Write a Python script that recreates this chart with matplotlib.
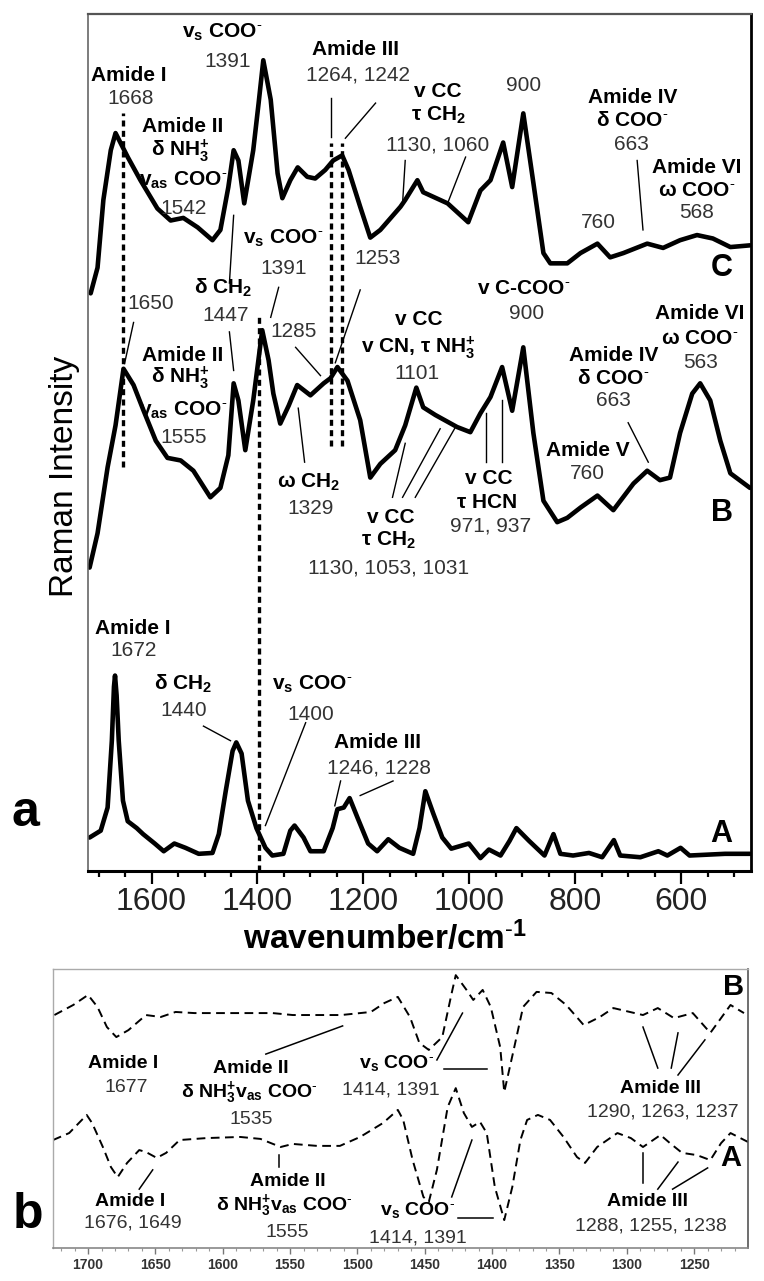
import matplotlib.pyplot as plt
import numpy as np

plt.rcParams['font.family'] = ['Liberation Sans', 'DejaVu Sans']
plt.rcParams['mathtext.fontset'] = 'custom'
plt.rcParams['mathtext.rm'] = 'Liberation Sans'
plt.rcParams['mathtext.bf'] = 'Liberation Sans:bold'
plt.rcParams['mathtext.it'] = 'Liberation Sans:italic'

# ---- panel a: Raman spectra (wavenumber / cm-1, intensity a.u. with offsets) ----
w_C = [1715, 1702, 1691, 1677, 1668, 1645, 1621, 1589, 1564, 1540, 1513, 1485, 1470,
       1455, 1445, 1436, 1425, 1408, 1398, 1389, 1375, 1362, 1353, 1338, 1324, 1306, 1291,
       1272, 1257, 1240, 1228, 1206, 1187, 1168, 1130, 1121, 1098, 1087, 1041, 1002,
       979, 960, 936, 919, 898, 879, 860, 847, 815, 790, 758, 734, 709, 664, 634, 602,
       570, 540, 507, 470]
I_C = [67.4, 70.4, 78.3, 84.1, 86.1, 83.3, 80.6, 77.3, 75.9, 76.2, 75.1, 73.6, 74.8,
       79.8, 84.1, 82.9, 77.9, 84.1, 89.5, 94.6, 90.0, 81.4, 78.5, 80.6, 82.1, 81.0, 80.8,
       81.8, 82.9, 83.5, 81.8, 77.5, 73.9, 74.8, 77.5, 78.3, 80.6, 79.2, 77.9, 75.7,
       79.4, 80.6, 85.0, 79.8, 88.4, 80.3, 72.1, 70.9, 70.9, 72.1, 73.2, 71.6, 72.1,
       73.2, 72.7, 73.6, 74.2, 73.8, 72.8, 73.0]

w_B = [1717, 1702, 1683, 1668, 1653, 1634, 1615, 1592, 1570, 1545, 1521, 1489, 1470,
       1455, 1445, 1436, 1423, 1408, 1391, 1379, 1370, 1357, 1341, 1325, 1300, 1275,
       1262, 1249, 1230, 1206, 1187, 1168, 1140, 1121, 1100, 1087, 1064, 1023, 998,
       979, 960, 938, 919, 898, 879, 860, 834, 815, 790, 758, 728, 690, 664, 640, 621,
       602, 579, 564, 545, 526, 507, 470]
I_B = [35.4, 39.4, 47.1, 52.0, 58.6, 56.7, 53.7, 50.2, 48.2, 47.9, 46.7, 43.6, 44.7,
       48.5, 56.9, 54.9, 49.1, 54.9, 63.1, 59.6, 55.7, 52.2, 54.3, 56.7, 55.5, 56.9,
       57.5, 58.8, 57.2, 52.6, 45.9, 47.5, 49.1, 52.0, 56.4, 54.1, 53.2, 51.8, 51.2,
       53.4, 55.3, 58.8, 53.7, 61.1, 51.1, 43.2, 40.7, 41.2, 42.4, 43.8, 42.1, 45.2,
       46.7, 45.6, 45.9, 51.1, 55.7, 56.9, 54.9, 50.2, 46.4, 44.7]

w_A = [1717, 1696, 1683, 1675, 1671, 1669, 1666, 1662, 1654, 1645, 1628, 1616, 1594, 1577, 1557,
       1536, 1511, 1485, 1473, 1460, 1447, 1440, 1430, 1418, 1402, 1385, 1372, 1351,
       1338, 1330, 1313, 1300, 1275, 1258, 1249, 1237, 1226, 1211, 1191, 1174, 1153,
       1132, 1106, 1094, 1083, 1068, 1051, 1034, 1001, 979, 963, 941, 924, 911, 887,
       858, 841, 828, 804, 774, 749, 727, 715, 677, 643, 626, 601, 584, 517, 470]
I_A = [3.9, 4.7, 7.4, 15.2, 21.5, 22.8, 20.5, 15.2, 8.2, 5.8, 5.0, 4.3, 3.2, 2.3, 3.2,
       2.7, 2.0, 2.1, 4.3, 9.3, 14.0, 15.0, 13.7, 8.2, 5.0, 2.7, 1.8, 2.0,
       4.7, 5.3, 3.9, 2.3, 2.3, 5.0, 7.2, 7.4, 8.5, 6.2, 3.2, 2.3, 3.7,
       2.7, 2.0, 5.0, 9.3, 6.7, 3.9, 2.6, 3.2, 1.5, 2.5, 1.8, 3.5, 5.0, 3.5,
       1.8, 4.3, 2.0, 1.8, 2.1, 1.6, 3.6, 1.8, 1.6, 2.3, 1.8, 2.7, 1.8, 2.0, 2.0]

# dotted guide lines: wavenumber, top, bottom
guide_w = [1653, 1397, 1262, 1240]
guide_top = [88.4, 64.6, 84.9, 84.9]
guide_bot = [47.1, 0.0, 49.6, 49.6]

# ---- panel b: dashed spectra ----
wb_B = [1725, 1711, 1700, 1693, 1686, 1679, 1670, 1657, 1646, 1635, 1621, 1584, 1563,
        1548, 1512, 1490, 1480, 1470, 1461, 1454, 1447, 1437, 1430, 1427, 1419, 1414,
        1407, 1401, 1394, 1391, 1384, 1377, 1367, 1356, 1345, 1332, 1320, 1310, 1288,
        1277, 1265, 1251, 1238, 1223, 1213]
Ib_B = [83.5, 87.1, 90.7, 86.4, 79.2, 75.6, 78.1, 83.5, 82.8, 84.6, 84.2, 84.2, 84.2,
        83.5, 83.5, 84.6, 87.8, 90.0, 82.8, 73.5, 71.0, 75.6, 91.4, 97.8, 92.5, 88.9,
        92.5, 86.4, 72.0, 55.9, 71.0, 86.4, 91.8, 91.4, 87.1, 79.9, 82.8, 86.0, 83.5,
        86.0, 82.4, 84.2, 77.1, 87.1, 84.2]

wb_A = [1726, 1714, 1701, 1697, 1689, 1683, 1678, 1671, 1662, 1657, 1649, 1642, 1632,
        1612, 1587, 1572, 1557, 1548, 1530, 1513, 1498, 1481, 1470, 1466, 1459, 1451,
        1447, 1441, 1433, 1427, 1421, 1415, 1409, 1404, 1398, 1391, 1385, 1379, 1374,
        1366, 1357, 1347, 1337, 1331, 1322, 1307, 1297, 1288, 1275, 1268, 1259, 1248,
        1238, 1230, 1223, 1210]
Ib_A = [38.7, 41.2, 47.7, 44.8, 36.2, 29.0, 25.4, 30.5, 35.1, 34.4, 32.3, 34.1, 38.7,
        39.4, 39.8, 39.1, 36.2, 37.3, 36.6, 36.6, 39.8, 44.8, 49.5, 45.9, 31.5, 18.3,
        16.5, 28.0, 50.5, 57.3, 48.4, 43.4, 45.2, 41.2, 21.9, 10.0, 21.9, 38.7, 45.9,
        47.7, 45.9, 39.8, 32.6, 30.5, 36.2, 41.2, 39.4, 36.2, 40.5, 37.6, 34.1, 33.3,
        31.5, 37.6, 41.2, 38.0]

MINUS = r'$^{\text{-}}$'
VS = r'v$_\mathbf{s}$ COO' + MINUS
VAS = r'v$_\mathbf{as}$ COO' + MINUS
NH3 = r'δ NH$_\mathbf{3}^\mathbf{+}$'
DCH2 = r'δ CH$_\mathbf{2}$'
TCH2 = r'τ CH$_\mathbf{2}$'
NH3VAS = r'δ NH$_\mathbf{3}^\mathbf{+}$v$_\mathbf{as}$ COO' + MINUS

# labels of panel a: text, wavenumber, intensity, bold?
labels_a = [
    ('Amide I', 1643, 92.8, 1), ('1668', 1640, 90.1, 0),
    (VS, 1466, 97.9, 1), ('1391', 1457, 94.4, 0),
    ('Amide II', 1541, 86.9, 1), (NH3, 1545, 84.1, 1), (VAS, 1541, 80.6, 1), ('1542', 1540, 77.3, 0),
    ('Amide III', 1215, 95.8, 1), ('1264, 1242', 1211, 92.9, 0),
    ('v CC', 1060, 90.9, 1), (TCH2, 1058, 88.2, 1), ('1130, 1060', 1060, 84.7, 0),
    ('900', 898, 91.6, 0),
    ('Amide IV', 692, 90.3, 1), ('δ COO' + MINUS, 692, 87.6, 1), ('663', 694, 84.8, 0),
    ('Amide VI', 570, 82.1, 1), ('ω COO' + MINUS, 570, 79.4, 1), ('568', 570, 76.8, 0),
    ('760', 757, 75.7, 0),
    ('1650', 1602, 66.2, 0),
    (DCH2, 1464, 68.0, 1), ('1447', 1460, 64.8, 0),
    (VS, 1351, 73.8, 1), ('1391', 1351, 70.3, 0),
    ('1285', 1332, 62.9, 0), ('1253', 1174, 71.5, 0),
    ('Amide II', 1541, 60.2, 1), (NH3, 1545, 57.6, 1), (VAS, 1541, 53.7, 1), ('1555', 1540, 50.6, 0),
    (r'ω CH$_\mathbf{2}$', 1304, 45.3, 1), ('1329', 1300, 42.3, 0),
    ('v CC', 1096, 64.3, 1), (r'v CN, τ NH$_\mathbf{3}^\mathbf{+}$', 1096, 61.1, 1), ('1101', 1098, 58.1, 0),
    ('v CC', 1149, 41.2, 1), (TCH2, 1153, 38.6, 1), ('1130, 1053, 1031', 1153, 35.3, 0),
    ('v CC', 964, 45.8, 1), ('τ HCN', 966, 43.0, 1), ('971, 937', 960, 40.2, 0),
    ('v C-COO' + MINUS, 898, 68.0, 1), ('900', 892, 65.1, 0),
    ('Amide VI', 564, 65.1, 1), ('ω COO' + MINUS, 564, 62.1, 1), ('563', 564, 59.3, 0),
    ('Amide IV', 728, 60.2, 1), ('δ COO' + MINUS, 728, 57.5, 1), ('663', 728, 54.9, 0),
    ('Amide V', 777, 49.1, 1), ('760', 777, 46.4, 0),
    ('Amide I', 1636, 28.3, 1), ('1672', 1634, 25.7, 0),
    (DCH2, 1541, 21.8, 1), ('1440', 1540, 18.7, 0),
    (VS, 1296, 21.8, 1), ('1400', 1300, 18.3, 0),
    ('Amide III', 1174, 15.0, 1), ('1246, 1228', 1170, 12.0, 0),
]
leaders_a = [
    ((1262, 90.2), (1262, 85.6)), ((1177, 89.6), (1234, 85.5)),
    ((1121, 82.9), (1126, 77.9)), ((1007, 83.3), (1041, 77.9)),
    ((683, 82.9), (672, 74.8)),
    ((1634, 64.0), (1651, 59.2)),
    ((1453, 62.9), (1445, 58.4)), ((1453, 68.6), (1445, 76.5)),
    ((1360, 68.1), (1375, 64.6)),
    ((1328, 61.1), (1281, 57.8)),
    ((1206, 67.8), (1253, 59.3)),
    ((1311, 47.7), (1323, 54.0)),
    ((1145, 43.6), (1121, 49.9)), ((1126, 43.6), (1055, 51.6)), ((1102, 43.6), (1026, 51.8)),
    ((968, 53.4), (968, 47.7)), ((938, 54.9), (938, 47.7)),
    ((700, 52.3), (662, 47.7)),
    ((1502, 16.9), (1451, 15.2)),
    ((1309, 17.3), (1385, 5.3)),
    ((1243, 10.5), (1254, 7.6)), ((1144, 10.5), (1206, 8.8)),
]
traces_a = [('C', w_C, I_C, 523, 70.3), ('B', w_B, I_B, 523, 41.8), ('A', w_A, I_A, 524, 4.3)]

labels_b = [
    ('Amide I', 1674, 66.3, 1), ('1677', 1672, 57.7, 0),
    ('Amide II', 1579, 64.5, 1), (NH3VAS, 1580, 55.9, 1), ('1535', 1579, 45.9, 0),
    (VS, 1471, 66.3, 1), ('1414, 1391', 1475, 56.6, 0),
    ('Amide III', 1275, 57.0, 1), ('1290, 1263, 1237', 1273, 48.7, 0),
    ('Amide I', 1669, 16.8, 1), ('1676, 1649', 1667, 9.0, 0),
    ('Amide II', 1552, 23.7, 1), (NH3VAS, 1554, 15.4, 1), ('1555', 1552, 5.4, 0),
    (VS, 1455, 13.6, 1), ('1414, 1391', 1455, 3.6, 0),
    ('Amide III', 1285, 16.5, 1), ('1288, 1255, 1238', 1282, 7.9, 0),
]
leaders_b = [
    ((1568, 69.5), (1511, 79.6)),
    ((1441, 67.4), (1422, 84.2)), ((1436, 64.2), (1404, 64.2)),
    ((1288, 79.2), (1277, 64.5)), ((1262, 77.1), (1267, 64.5)), ((1242, 74.6), (1262, 62.0)),
    ((1662, 21.1), (1652, 28.0)),
    ((1558, 29.0), (1558, 33.3)),
    ((1430, 18.3), (1415, 38.7)), ((1425, 10.8), (1399, 10.8)),
    ((1288, 34.1), (1288, 23.3)), ((1262, 30.8), (1277, 21.1)), ((1240, 28.7), (1266, 21.1)),
]
traces_b = [('B', wb_B, Ib_B, 1221, 93.5), ('A', wb_A, Ib_A, 1223, 32.3)]

fig = plt.figure(figsize=(7.64, 12.81), dpi=100)

# ---------------- panel a ----------------
ax = fig.add_axes([0.1152, 0.3201, 0.8678, 0.669])
for name, w, I, tx, ty in traces_a:
    ax.plot(w, I, color='black', lw=3.3, solid_joinstyle='round', solid_capstyle='round')
    ax.text(tx, ty, name, fontsize=22, fontweight='bold', ha='center', va='center')
for w, t, b in zip(guide_w, guide_top, guide_bot):
    ax.plot([w, w], [b, t], color='black', lw=2.4, linestyle=(0, (1.8, 1.3)))
for (x1, y1), (x2, y2) in leaders_a:
    ax.plot([x1, x2], [y1, y2], color='black', lw=1.0)
for txt, x, y, bold in labels_a:
    ax.text(x, y, txt, fontsize=15, ha='center', va='center',
            fontweight='bold' if bold else 'normal', color='black' if bold else '#333333')

ax.set_xlim(1720, 468)
ax.set_ylim(0, 100)
ax.set_xticks([1600, 1400, 1200, 1000, 800, 600])
ax.set_xticks(np.arange(500, 1701, 50), minor=True)
ax.set_yticks([])
ax.tick_params(axis='x', which='major', direction='out', length=9.5, width=1.6,
               labelsize=23, pad=2, labelcolor='#222222')
ax.tick_params(axis='x', which='minor', direction='out', length=4, width=1.6)
for side, col, lw in [('left', '#666666', 1.2), ('top', '#555555', 1.6),
                      ('right', 'black', 2.0), ('bottom', 'black', 2.2)]:
    ax.spines[side].set_color(col)
    ax.spines[side].set_linewidth(lw)

fig.text(0.085, 0.628, 'Raman Intensity', rotation=90, fontsize=24, ha='center', va='center')
fig.text(0.504, 0.2677, r'wavenumber/cm$^{\text{-}\mathbf{1}}$', fontsize=24, fontweight='bold',
         ha='center', va='center')
fig.text(0.033, 0.365, 'a', fontsize=36, fontweight='bold', ha='center', va='center')

# ---------------- panel b ----------------
ax2 = fig.add_axes([0.0694, 0.02576, 0.9097, 0.2178])
for name, w, I, tx, ty in traces_b:
    ax2.plot(w, I, color='black', lw=1.4, linestyle=(0, (4.5, 2.8)))
    ax2.text(tx, ty, name, fontsize=21, fontweight='bold', ha='center', va='center')
for (x1, y1), (x2, y2) in leaders_b:
    ax2.plot([x1, x2], [y1, y2], color='black', lw=1.1)
for txt, x, y, bold in labels_b:
    ax2.text(x, y, txt, fontsize=14, ha='center', va='center',
             fontweight='bold' if bold else 'normal', color='black' if bold else '#333333')

ax2.set_xlim(1726, 1210)
ax2.set_ylim(0, 100)
ax2.set_xticks(np.arange(1250, 1701, 50))
ax2.set_xticks(np.arange(1220, 1721, 10), minor=True)
ax2.set_yticks([])
ax2.tick_params(axis='x', which='major', direction='out', length=4, width=1.0,
                color='#777777', labelsize=10, pad=3, labelcolor='#333333')
ax2.tick_params(axis='x', which='minor', direction='out', length=2.5, width=0.8, color='#999999')
for lbl in ax2.get_xticklabels():
    lbl.set_fontweight('bold')
for side, col, lw in [('left', '#aaaaaa', 1.0), ('top', '#aaaaaa', 1.0),
                      ('right', '#555555', 1.2), ('bottom', '#888888', 1.2)]:
    ax2.spines[side].set_color(col)
    ax2.spines[side].set_linewidth(lw)

fig.text(0.037, 0.0515, 'b', fontsize=36, fontweight='bold', ha='center', va='center')

fig.savefig('out.png', dpi=100)
